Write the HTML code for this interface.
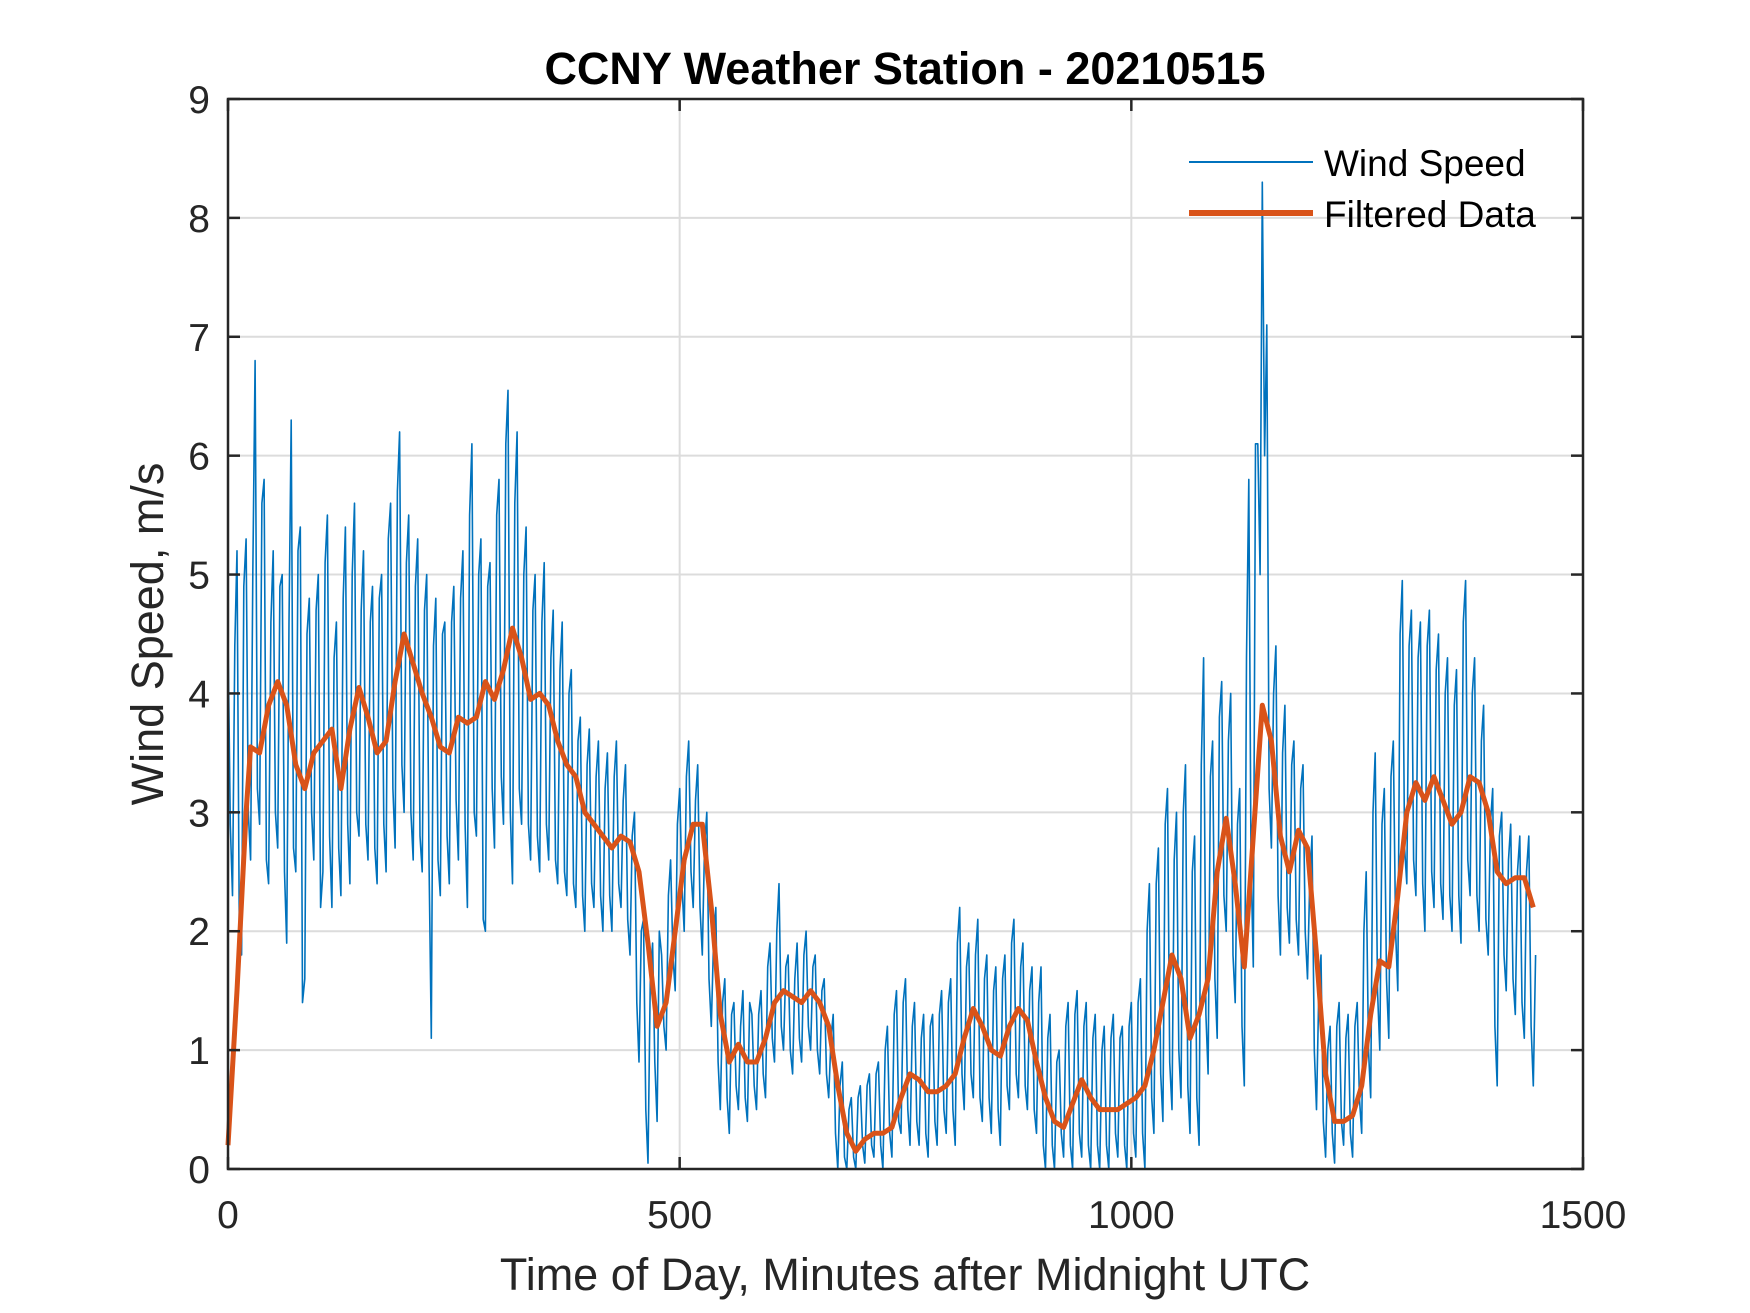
<!DOCTYPE html>
<html><head><meta charset="utf-8"><style>
html,body{margin:0;padding:0;background:#fff;}
svg{display:block;font-family:"Liberation Sans",Arial,sans-serif;}
</style></head><body>
<svg id="chart" width="1750" height="1313" viewBox="0 0 1750 1313">
<rect x="0" y="0" width="1750" height="1313" fill="#fff"/>
<g id="grid"></g>
<g id="raw"></g>
<g id="filt"></g>
<g id="axes"></g>
<text x="905" y="84" text-anchor="middle" font-size="45" font-weight="bold" fill="#000">CCNY Weather Station - 20210515</text>
<text x="905" y="1290" text-anchor="middle" font-size="45" fill="#262626">Time of Day, Minutes after Midnight UTC</text>
<text transform="translate(163,634) rotate(-90)" text-anchor="middle" font-size="45" fill="#262626">Wind Speed, m/s</text>
<g>
<line x1="1189" y1="162" x2="1313" y2="162" stroke="#0072BD" stroke-width="2"/>
<text x="1324" y="176" font-size="37" fill="#000">Wind Speed</text>
<line x1="1189" y1="213" x2="1313" y2="213" stroke="#D95319" stroke-width="6"/>
<text x="1324" y="227" font-size="37" fill="#000">Filtered Data</text>
</g>
</svg>
<script>
const xTicks=[0,500,1000,1500];
const yTicks=[0,1,2,3,4,5,6,7,8,9];
const rawStep=5;
const rawValues=[
4.5,2.3,5.2,1.8,5.3,2.6,6.8,2.9,5.8,2.4,5.2,2.7,
5.0,1.9,6.3,2.5,5.4,1.6,4.8,2.6,5.0,2.5,5.5,2.2,
4.6,2.3,5.4,2.4,5.6,2.8,5.2,2.6,4.9,2.4,5.0,2.5,
5.6,2.7,6.2,3.0,5.5,2.6,5.3,2.5,5.0,1.1,4.8,2.3,
4.6,2.4,4.9,2.6,5.2,2.2,6.1,2.8,5.3,2.0,5.1,2.7,
5.8,2.9,6.55,2.4,6.2,2.9,5.4,2.6,5.0,2.5,5.1,2.6,
4.7,2.4,4.6,2.3,4.2,2.2,3.8,2.0,3.7,2.2,3.6,2.0,
3.5,2.0,3.6,2.2,3.4,1.8,3.0,0.9,2.1,0.05,1.9,0.4,
1.8,1.0,2.6,1.5,3.2,2.0,3.6,2.2,3.4,1.8,3.0,1.2,
2.2,0.5,1.6,0.3,1.4,0.5,1.5,0.4,1.3,0.5,1.5,0.6,
1.9,0.9,2.4,1.0,1.8,0.8,1.9,0.9,2.0,1.0,1.8,0.8,
1.6,0.6,1.3,0.0,0.9,0.0,0.6,0.0,0.7,0.05,0.8,0.1,
0.9,0.0,1.2,0.1,1.5,0.3,1.6,0.2,1.4,0.2,1.3,0.1,
1.3,0.2,1.5,0.3,1.6,0.2,2.2,0.5,1.9,0.6,2.1,0.4,
1.8,0.3,1.7,0.2,1.8,0.5,2.1,0.6,1.9,0.5,1.7,0.3,
1.7,0.0,1.3,0.0,1.0,0.1,1.4,0.0,1.5,0.1,1.4,0.0,
1.3,0.0,1.2,0.0,1.3,0.1,1.2,0.0,1.4,0.1,1.6,0.0,
2.4,0.3,2.7,0.4,3.2,0.5,3.0,0.6,3.4,0.3,2.8,0.2,
4.3,0.8,3.6,1.1,4.1,2.0,4.0,1.4,3.2,0.7,5.8,1.7,
6.1,8.3,7.1,2.7,4.4,1.8,3.9,1.9,3.6,1.8,3.4,1.6,
2.8,0.5,1.8,0.1,1.2,0.05,1.4,0.2,1.3,0.1,1.4,0.3,
2.5,0.6,3.5,1.0,3.2,1.1,3.6,1.5,4.95,2.4,4.7,2.3,
4.6,2.0,4.7,2.2,4.5,2.1,4.3,2.0,4.2,1.9,4.95,2.3,
4.3,2.0,3.9,1.8,3.2,0.7,3.0,1.5,2.9,1.3,2.8,1.1,
2.8,0.7];
const rawMidValues=[
2.9,4.4,2.0,4.9,3.0,5.0,3.2,5.6,2.6,4.6,3.0,4.9,
2.5,4.6,2.7,5.2,1.4,4.5,3.0,4.7,2.2,5.1,2.8,4.3,
2.7,4.8,2.9,5.0,3.0,4.7,2.9,4.6,2.7,4.8,2.9,5.3,
3.2,5.7,3.4,5.1,3.0,4.9,2.8,4.7,2.6,4.4,2.6,4.5,
2.8,4.6,3.1,4.8,2.9,5.5,3.0,5.0,2.1,4.9,3.2,5.5,
3.3,6.1,3.0,5.6,3.2,5.0,2.9,4.7,2.8,4.6,2.9,4.3,
2.6,4.2,2.5,4.0,2.4,3.6,2.3,3.4,2.4,3.3,2.3,3.2,
2.3,3.3,2.4,3.1,2.1,2.8,1.4,2.0,0.5,1.6,0.9,2.0,
1.2,2.3,1.8,2.9,2.4,3.3,2.5,3.1,2.2,2.7,1.6,1.9,
0.9,1.4,0.6,1.3,0.7,1.2,0.6,1.4,0.7,1.3,0.8,1.7,
1.1,2.0,1.2,1.7,1.0,1.6,1.1,1.8,1.2,1.7,1.0,1.5,
0.8,1.1,0.3,0.7,0.1,0.5,0.1,0.6,0.2,0.7,0.2,0.8,
0.2,1.0,0.3,1.3,0.4,1.4,0.5,1.2,0.4,1.1,0.3,1.2,
0.4,1.3,0.5,1.4,0.5,1.9,0.8,1.7,0.8,1.8,0.6,1.6,
0.6,1.5,0.5,1.6,0.7,1.9,0.8,1.7,0.7,1.5,0.5,1.4,
0.2,1.1,0.2,0.9,0.3,1.2,0.2,1.3,0.3,1.2,0.2,1.1,
0.2,1.0,0.2,1.1,0.3,1.1,0.2,1.2,0.3,1.4,0.3,2.0,
0.6,2.4,0.8,2.9,0.9,2.6,1.0,3.0,0.7,2.5,0.6,3.4,
1.3,3.3,1.6,3.8,2.3,3.6,1.8,2.9,1.2,4.3,2.6,6.1,
5.0,6.0,3.2,4.0,2.3,3.5,2.2,3.4,2.1,3.2,2.0,2.4,
1.0,1.5,0.4,1.0,0.3,1.2,0.4,1.1,0.3,1.2,0.6,2.0,
1.0,3.0,1.5,2.9,1.6,3.3,2.0,4.5,2.7,4.4,2.6,4.3,
2.4,4.4,2.5,4.2,2.4,4.0,2.3,3.9,2.3,4.6,2.6,4.0,
2.3,3.6,2.1,2.9,1.2,2.8,1.8,2.6,1.6,2.5,1.4,2.5,
1.2,1.8];
const filtTimes=[0,10,20,25,35,45,55,65,75,85,95,105,115,125,135,145,155,165,175,185,195,205,215,225,235,245,255,265,275,285,295,305,315,325,335,345,355,365,375,385,395,405,415,425,435,445,455,465,475,485,495,505,515,525,535,545,555,565,575,585,595,605,615,625,635,645,655,665,675,685,695,705,715,725,735,745,755,765,775,785,795,805,815,825,835,845,855,865,875,885,895,905,915,925,935,945,955,965,975,985,995,1005,1015,1025,1035,1045,1055,1065,1075,1085,1095,1105,1115,1125,1135,1145,1155,1165,1175,1185,1195,1205,1215,1225,1235,1245,1255,1265,1275,1285,1295,1305,1315,1325,1335,1345,1355,1365,1375,1385,1395,1405,1415,1425,1435,1445];
const filtValues=[0.2,1.5,3.0,3.55,3.5,3.9,4.1,3.9,3.4,3.2,3.5,3.6,3.7,3.2,3.7,4.05,3.8,3.5,3.6,4.1,4.5,4.25,4.0,3.8,3.55,3.5,3.8,3.75,3.8,4.1,3.95,4.2,4.55,4.3,3.95,4.0,3.9,3.6,3.4,3.3,3.0,2.9,2.8,2.7,2.8,2.75,2.5,1.9,1.2,1.4,2.0,2.6,2.9,2.9,2.2,1.3,0.9,1.05,0.9,0.9,1.1,1.4,1.5,1.45,1.4,1.5,1.4,1.2,0.7,0.3,0.15,0.25,0.3,0.3,0.35,0.6,0.8,0.75,0.65,0.65,0.7,0.8,1.1,1.35,1.2,1.0,0.95,1.2,1.35,1.25,0.9,0.6,0.4,0.35,0.55,0.75,0.6,0.5,0.5,0.5,0.55,0.6,0.7,1.0,1.4,1.8,1.6,1.1,1.3,1.6,2.5,2.95,2.4,1.7,2.8,3.9,3.6,2.8,2.5,2.85,2.7,1.8,0.8,0.4,0.4,0.45,0.7,1.3,1.75,1.7,2.3,3.0,3.25,3.1,3.3,3.1,2.9,3.0,3.3,3.25,3.0,2.5,2.4,2.45,2.45,2.2];

const L=228,R=1583,T=99,B=1169;
const xs=v=>L+(v-0)/(1500-0)*(R-L);
const ys=v=>B-(v-0)/(9-0)*(B-T);
const NS='http://www.w3.org/2000/svg';
function mk(tag,attrs,parent){const e=document.createElementNS(NS,tag);for(const k in attrs)e.setAttribute(k,attrs[k]);parent.appendChild(e);return e;}
const grid=document.getElementById('grid'),axes=document.getElementById('axes');
xTicks.forEach(t=>{
  if(t>0&&t<1500){const g=mk('line',{x1:xs(t),x2:xs(t),y1:T,y2:B,stroke:'#dcdcdc','stroke-width':2},grid);
  
  }
  for(const yy of [[B,B-12],[T,T+12]]){const k=mk('line',{x1:xs(t),x2:xs(t),y1:yy[0],y2:yy[1],stroke:'#262626','stroke-width':2.5},axes);
  
  }
  const tx=mk('text',{x:xs(t),y:1228,'text-anchor':'middle','font-size':39,fill:'#262626'},axes);tx.textContent=t;
  
  
});
yTicks.forEach(t=>{
  if(t>0&&t<9){const g=mk('line',{x1:L,x2:R,y1:ys(t),y2:ys(t),stroke:'#dcdcdc','stroke-width':2},grid);
  
  }
  for(const xx of [[L,L+12],[R,R-12]]){const k=mk('line',{x1:xx[0],x2:xx[1],y1:ys(t),y2:ys(t),stroke:'#262626','stroke-width':2.5},axes);
  
  }
  const tx=mk('text',{x:210,y:ys(t)+14,'text-anchor':'end','font-size':39,fill:'#262626'},axes);tx.textContent=t;
  
  
});
const box=mk('rect',{x:L,y:T,width:R-L,height:B-T,fill:'none',stroke:'#262626','stroke-width':2.5},axes);


const pts=[];
rawValues.forEach((v,i)=>{
  pts.push(xs(i*rawStep).toFixed(1)+','+ys(v).toFixed(1));
  if(i<rawMidValues.length) pts.push(xs(i*rawStep+rawStep/2).toFixed(1)+','+ys(rawMidValues[i]).toFixed(1));
});
const rl=mk('polyline',{points:pts.join(' '),fill:'none',stroke:'#0072BD','stroke-width':1.6,'stroke-linejoin':'round'},document.getElementById('raw'));


const fp=filtValues.map((v,i)=>xs(filtTimes[i]).toFixed(1)+','+ys(v).toFixed(1)).join(' ');
const fl=mk('polyline',{points:fp,fill:'none',stroke:'#D95319','stroke-width':5,'stroke-linejoin':'round'},document.getElementById('filt'));


</script>
</body></html>
